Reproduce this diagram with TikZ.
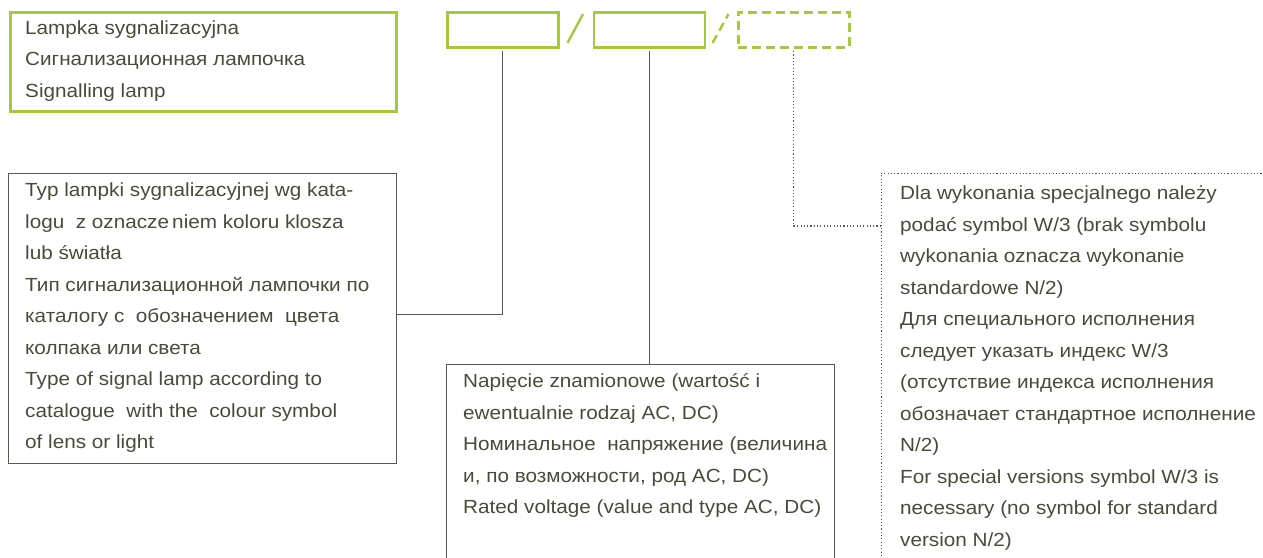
\documentclass[tikz,border=0pt]{standalone}
\usepackage{fontspec}
\setmainfont{Liberation Sans}[FakeStretch=1.09]
\usepackage{xcolor}
\usepackage{tikz}

\definecolor{lampgreen}{RGB}{164,201,62}
\definecolor{lamptext}{RGB}{74,74,58}
\definecolor{lampline}{RGB}{90,90,76}

\begin{document}
\begin{tikzpicture}[x=1pt, y=-1pt,
    greenbox/.style={draw=lampgreen, line width=2.4pt, inner sep=0pt, anchor=north west},
    dashbox/.style={greenbox, dash pattern=on 9pt off 5pt},
    framebox/.style={draw=lampline, line width=1.1pt, inner sep=0pt, anchor=north west},
    dotbox/.style={framebox, dash pattern=on 1.1pt off 2.2pt},
    lamptxt/.style={text=lamptext, align=left, inner sep=0pt, anchor=north west,
                    font=\fontsize{19}{31.5}\selectfont},
    wire/.style={draw=lampline, line width=1.1pt, shorten <=2.5pt}]
            \useasboundingbox (0,0) rectangle (1263,557);

            % title box
            \node[greenbox, minimum width=386pt, minimum height=99pt] (lamp) at (9.2,11.2) {};
            \node[lamptxt] (lamptitle) at (25,20.4) {Lampka sygnalizacyjna\\Сигнализационная лампочка\\Signalling lamp};

            % code boxes
            \node[greenbox, minimum width=111pt, minimum height=35pt] (code1) at (446.2,11.2) {};
            \node[greenbox, minimum width=111pt, minimum height=35pt] (code2) at (592.9,11.2) {};
            \node[dashbox, minimum width=111pt, minimum height=35pt] (code3) at (737.2,11.2) {};
            \draw[lampgreen, line width=2.4pt] (567.5,43) -- (583,14); % slash 1
            \draw[lampgreen, line width=2.4pt, dash pattern=on 9pt off 5pt] (712.5,43) -- (728.5,14); % slash 2

            % description boxes
            \node[framebox, minimum width=388pt, minimum height=290pt] (typ) at (7.5,172.5) {};
            \node[lamptxt] (typtext) at (25,182.9) {Typ lampki sygnalizacyjnej wg kata-\\
                logu\ \ z oznacze\,niem koloru klosza\\
                lub światła\\
                Тип сигнализационной лампочки по\\
                каталогу с\ \ обозначением\ \ цвета\\
                колпака или света\\
                Type of signal lamp according to\\
                catalogue\ \ with the\ \ colour symbol\\
                of lens or light};

            \node[framebox, minimum width=388pt, minimum height=260pt] (volt) at (445.5,364) {};
            \node[lamptxt] (volttext) at (463,373.4) {Napięcie znamionowe (wartość i\\
                ewentualnie rodzaj AC, DC)\\
                Номинальное\ \ напряжение (величина\\
                и, по возможности, род AC, DC)\\
                Rated voltage (value and type AC, DC)};

            \node[dotbox, minimum width=500pt, minimum height=420pt] (spec) at (880.5,172.5) {};
            \node[lamptxt] (spectext) at (900,186) {Dla wykonania specjalnego należy\\
                podać symbol W/3 (brak symbolu\\
                wykonania oznacza wykonanie\\
                standardowe N/2)\\
                Для специального исполнения\\
                следует указать индекс W/3\\
                (отсутствие индекса исполнения\\
                обозначает стандартное исполнение\\
                N/2)\\
                For special versions symbol W/3 is\\
                necessary (no symbol for standard\\
                version N/2)};
            \coordinate (specin) at (880.5,226);

            % connectors
            \draw[wire] (code1.south) |- ([yshift=4pt]typ.east); % code1-typ
            \draw[wire] (code2.south) -- (code2.south |- volt.north); % code2-volt
            \draw[wire, dash pattern=on 1.1pt off 2.2pt] (code3.south) |- (specin); % code3-spec
        \end{tikzpicture}
\end{document}
